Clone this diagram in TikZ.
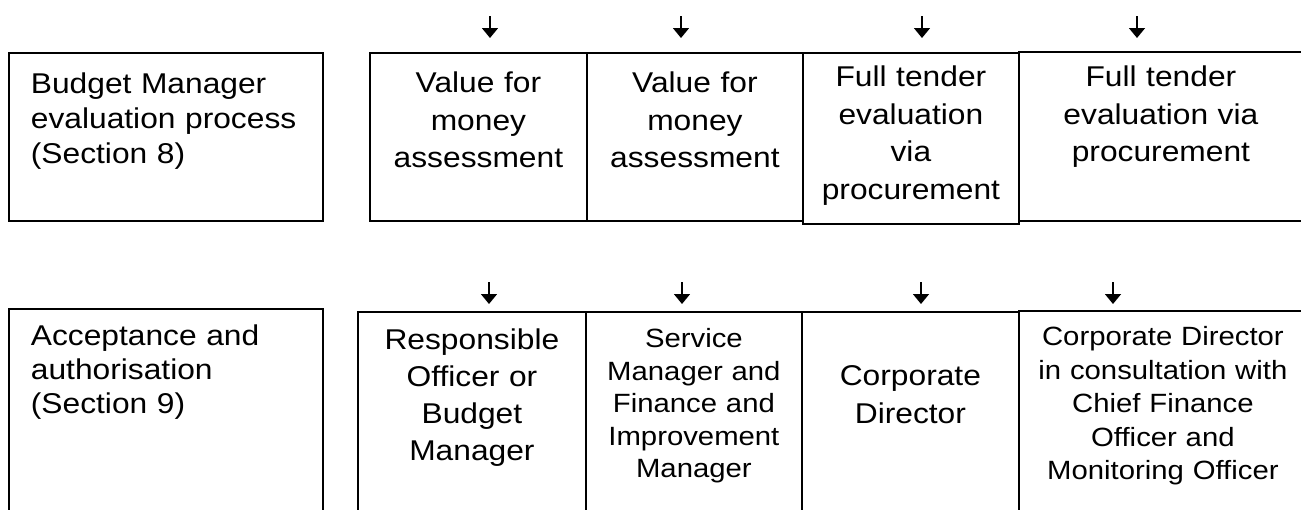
\documentclass[tikz,border=0pt]{standalone}
\usepackage{fontspec}
\setmainfont{Liberation Sans}[FakeStretch=1.11]
\usepackage{tikz}
\usetikzlibrary{positioning, arrows.meta}

\begin{document}
\begin{tikzpicture}[
    x=1pt, y=-1pt,
    stage/.style={draw, line width=1.8pt, anchor=north west, inner sep=0pt, align=center},
    head/.style={stage, align=left, inner xsep=22pt},
    big/.style={font=\fontsize{28.6}{37.5}\selectfont},
    small/.style={font=\fontsize{26.4}{32.5}\selectfont},
    feed/.style={-{Triangle[length=10pt, width=16pt]}, line width=1.6pt}
]
\useasboundingbox (0,0) rectangle (1301,509);
\clip (0,0) rectangle (1301,509);

% evaluation row
\node[head, font=\fontsize{28.6}{35}\selectfont, text width=270pt, text height=41pt, text depth=127pt] (evalhead) at (8,52) {Budget Manager\\evaluation process\\(Section 8)};
\node[stage, big, text width=217pt, text height=40pt, text depth=128pt] (vfm1) at (369,52) {Value for\\money\\assessment};
\node[stage, big, text width=216pt, text height=40pt, text depth=128pt] (vfm2) at (586,52) {Value for\\money\\assessment};
\node[stage, big, text width=216pt, text height=34pt, text depth=137pt] (tender1) at (802,52) {Full tender\\evaluation\\via\\procurement};
\node[stage, big, text width=284pt, text height=35pt, text depth=134pt] (tender2) at (1018,51) {Full tender\\evaluation via\\procurement};

% authorisation row
\node[head, font=\fontsize{28.6}{34}\selectfont, text width=270pt, text height=37pt, text depth=213pt] (authhead) at (8,308) {Acceptance and\\authorisation\\(Section 9)};
\node[stage, font=\fontsize{28.6}{36.7}\selectfont, text width=228pt, text height=38pt, text depth=213pt] (officer) at (357,311) {Responsible\\Officer or\\Budget\\Manager};
\node[stage, small, text width=216pt, text height=36pt, text depth=215pt] (service) at (585,311) {Service\\Manager and\\Finance and\\Improvement\\Manager};
\node[stage, big, text width=217pt, text height=74pt, text depth=177pt] (director) at (801,311) {Corporate\\Director};
\node[stage, font=\fontsize{26.4}{33.5}\selectfont, text width=288pt, text height=35pt, text depth=215pt] (consult) at (1018,310) {Corporate Director\\in consultation with\\Chief Finance\\Officer and\\Monitoring Officer};

% incoming arrows
\coordinate (in1) at (490,16);
\coordinate (in2) at (681,16);
\coordinate (in3) at (922,16);
\coordinate (in4) at (1137,16);
\draw[feed, shorten >=14pt] (in1) -- (in1 |- vfm1.north);
\draw[feed, shorten >=14pt] (in2) -- (in2 |- vfm2.north);
\draw[feed, shorten >=14pt] (in3) -- (in3 |- tender1.north);
\draw[feed, shorten >=13pt] (in4) -- (in4 |- tender2.north);

\coordinate (up1) at (489,282);
\coordinate (up2) at (682,282);
\coordinate (up3) at (921,282);
\coordinate (up4) at (1113,282);
\draw[feed, shorten >=7pt] (up1) -- (up1 |- officer.north);
\draw[feed, shorten >=7pt] (up2) -- (up2 |- service.north);
\draw[feed, shorten >=7pt] (up3) -- (up3 |- director.north);
\draw[feed, shorten >=6pt] (up4) -- (up4 |- consult.north);

\end{tikzpicture}
\end{document}
